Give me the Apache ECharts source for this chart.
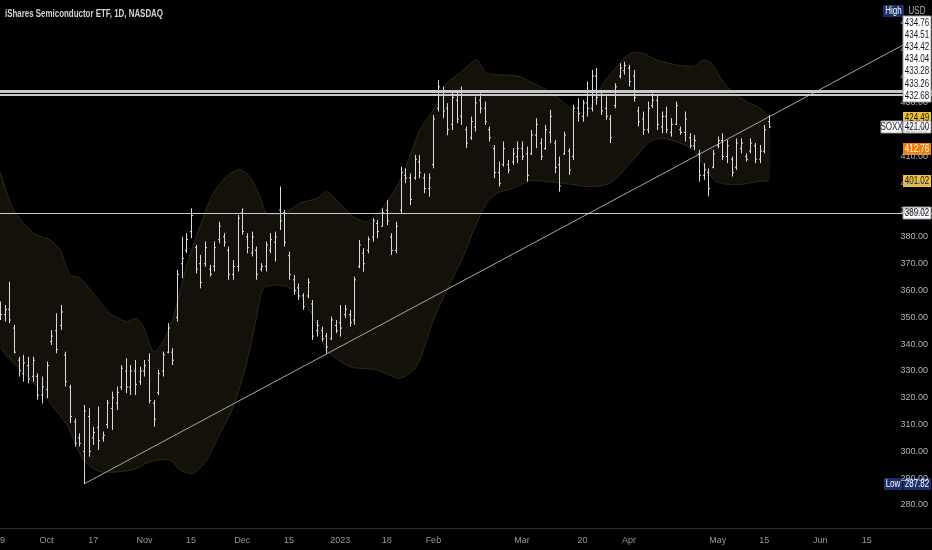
<!DOCTYPE html>
<html>
<head>
<meta charset="utf-8">
<script src="https://cdn.jsdelivr.net/npm/echarts@6/dist/echarts.min.js"></script>
<style>
  html, body { margin: 0; padding: 0; background: #000; }
  #chart { width: 932px; height: 550px; }
</style>
</head>
<body>
<div id="chart"></div>
<script>
// SOXX daily bars, index 0 = 2022-09-19 (trading days)
const highs = [355.9,354.6,363.3,347.2,335.3,336.0,335.3,335.3,329.1,327.9, 333.5,345.3,351.5,354.6,337.2,324.8,312.3,306.7,317.3,316.1,
  309.2,316.7,307.4,319.2,322.3,324.2,332.2,334.7,332.2,334.1, 331.6,334.1,336.6,319.2,330.4,337.2,347.8,338.5,367.7,380.1,
  381.4,390.7,377.0,373.3,378.3,369.6,378.3,385.7,381.4,376.4, 371.4,388.2,390.7,381.4,382.0,376.4,370.2,378.3,381.4,382.0,
  398.8,390.1,374.5,365.8,362.7,359.0,364.6,356.5,349.0,346.5, 344.1,350.3,349.0,354.6,354.6,352.8,365.2,378.9,375.8,380.1,
  387.0,386.3,390.7,393.8,381.4,385.7,406.2,405.6,403.7,410.6, 410.6,403.7,403.7,425.5,438.6,436.1,429.9,434.8,434.2,436.1,
  421.2,424.9,432.4,433.6,430.5,421.2,414.3,408.1,415.6,408.7, 413.1,415.6,415.6,413.7,419.9,424.3,416.8,421.8,427.4,416.2,
  410.0,419.3,413.1,429.3,431.7,431.1,438.0,442.3,443.0,434.8, 432.4,425.5,437.3,444.8,445.4,444.2,442.3,428.6,426.8,430.5,
  433.6,433.0,426.8,428.6,424.3,430.5,421.2,426.8,418.7,418.1, 412.5,407.5,405.6,412.5,417.4,418.7,416.2,410.0,416.8,416.8,
  411.2,416.8,415.0,414.3,421.8,425.5];
const lows = [349.0,348.4,347.8,336.6,327.9,326.0,325.4,326.0,319.2,317.9, 319.8,339.7,336.6,345.3,324.2,310.5,301.8,301.8,287.82,298.0,
  302.4,300.5,303.6,308.6,308.0,315.4,322.9,321.7,321.0,321.0, 324.8,327.9,317.9,309.2,321.0,327.9,336.6,332.2,348.4,364.6,
  373.9,379.5,366.4,360.8,368.9,365.2,367.1,377.6,376.4,364.0, 364.0,367.1,380.8,373.9,372.7,364.0,367.1,367.1,373.9,370.8,
  382.6,376.4,364.0,358.4,356.5,352.8,357.1,341.6,342.8,341.0, 336.6,341.6,344.1,342.8,349.7,346.5,347.2,368.3,367.0,373.9,
  378.2,379.5,383.8,384.4,373.3,373.9,388.8,400.0,391.9,401.3, 401.9,396.3,395.0,405.6,426.8,424.3,418.0,419.9,422.4,421.8,
  413.1,416.2,419.3,426.1,421.8,415.6,401.9,398.8,406.2,403.7, 406.9,407.5,408.7,400.6,410.6,413.1,408.7,412.5,415.0,403.8,
  396.9,410.6,403.1,408.7,423.0,423.0,424.9,426.8,429.3,425.5, 423.7,415.0,428.0,439.2,440.5,436.1,430.5,421.2,418.1,418.7,
  428.0,419.9,418.7,418.7,417.4,421.8,418.1,415.6,413.1,412.5, 400.6,401.3,395.1,405.6,413.1,408.7,407.5,402.5,405.0,411.2,
  408.1,411.2,407.5,407.5,411.2,420.6];
const opens = [354,351,353,346,334,329,332,328,328,321, 323,341,345,347,336,324,311,305,300,313,
  305,309,305,310,316,318,324,330,324,330, 326,330,334,318,322,330,337,337,350,370,
  375,382,376,370,370,368,369,379,380,375, 366,369,389,380,374,375,368,369,375,378,
  390,389,373,364,361,358,358,355,345,345, 343,342,347,348,351,351,349,369,374,375,
  380,385,384,390,380,375,390,403,402,402, 408,402,398,407,428,434,428,422,431,425,
  420,417,421,431,428,420,413,404,407,407, 408,410,413,411,411,418,415,413,419,415,
  407,411,412,410,428,425,430,428,440,433, 428,424,429,440,442,443,440,427,424,420,
  429,431,421,425,419,422,420,419,417,414, 411,403,404,406,414,416,410,409,406,413,
  410,412,414,409,412,423];
const closes = [351,353,349,337,330,333,327,334,321,324, 332,343,338,352,326,313,303,303,315,300,
  307,304,306,318,320,322,331,324,330,325, 330,332,319,312,329,336,346,334,366,372,
  379,388,368,363,376,366,376,384,378,366, 369,387,382,376,380,366,369,377,379,380,
  386,378,366,360,358,354,363,343,347,342, 339,349,345,346,353,348,364,377,370,379,
  386,382,389,386,375,384,404,402,394,409, 404,398,402,424,436,427,420,432,424,434,
  415,423,430,428,423,417,404,400,413,405, 411,413,410,403,418,422,410,420,425,406,
  399,418,405,428,426,430,428,440,432,427, 425,417,436,443,444,438,432,423,420,428,
  431,422,425,420,422,429,419,424,414,416, 403,405,398,411,416,410,414,404,415,415,
  409,415,409,412,420,421];

// envelope band, read at these bar positions
const bandUpIdx = [0,2.9,7.2,10.7,12.9,15,17.2,20,23.6,27.2,29.3,30.8,32.9,35,37.2,40,42.9,45.8,48.6,51.5,53.6,55.8,57.2,60.8,
  64.4,68,70.1,72.2,75.8,78.7,82.3,85.8,87.3,90.1,93,95.9,98.7,102.3,104.4,108.7,111.6,114.4,116.6,119.4,122.3,123.4,125.9,
  129.5,133,135.2,138,140.9,145.2,148.8,150.9,152.7,154.9,157.4,160.2,163.1,165];
const bandUp = [404.0,390.1,381.4,378.9,375.1,365.8,364.6,359.0,351.5,348.4,349.6,346.5,337.2,340.9,350.3,368.9,383.9,396.3,402.5,405.2,402.5,395.0,388.8,388.8,
  392.6,394.4,396.9,393.8,387.6,385.7,391.3,401.0,407.0,419.9,427.4,437.3,441.1,446.0,441.1,440.4,439.8,437.3,435.5,432.4,428.0,426.8,426.8,
  437.3,444.8,448.5,448.5,446.0,444.2,443.6,446.0,444.8,438.6,433.6,430.5,428.0,424.49];
const bandLowIdx = [0,7.2,14.3,17.9,21.5,28.6,32.2,36.5,38.6,41.5,44.3,47.2,50.1,52.9,55.1,56.5,59.4,61.5,64.4,67.2,70.1,75.1,80.8,85.8,
  89.4,93,95.9,99,102,104.4,106.6,110.2,113.7,120.9,126.6,130.9,135.2,139.5,142.3,145.9,148.8,151.6,153.8,158.1,162.4,165];
const bandLow = [339.1,325.4,310.0,296.8,292.4,293.1,296.2,296.8,293.1,291.8,296.8,306.7,316.7,332.9,350.3,360.8,362.1,361.5,357.7,350.3,337.8,331.6,330.4,327.3,
  331.6,349.0,360.2,371.0,384.0,392.5,396.3,398.2,401.0,400.0,398.8,400.0,407.5,415.6,416.8,415.0,412.5,405.0,400.6,399.4,400.6,401.02];

// trend line from the October low
const trendIdx = [18, 200];
const trendVal = [287.82, 457.4];

// horizontal levels
const levelLines = [434.76, 434.51, 434.42, 434.04, 433.28, 433.26, 432.68, 389.02];
const stackLabels = ['434.76', '434.51', '434.42', '434.04', '433.28', '433.26', '432.68'];

// axis ticks
const xTickIdx = [0,10,20,31,41,52,62,73,83,93,112,125,135,154,164,176,186];
const xTickText = ['19','Oct','17','Nov','15','Dec','15','2023','18','Feb','Mar','20','Apr','May','15','Jun','15'];
const yTicks = [280,290,300,310,320,330,340,350,360,370,380,390,400,410,420,430,440,450,460];

const lastClose = 421.00, bandTop = 424.49, bandMid = 412.76, bandBottom = 401.02, lowVal = 287.82;

const FONT = "'Liberation Sans', Arial, sans-serif";
const BAR = '#d8dae0';

const chart = echarts.init(document.getElementById('chart'));

function renderBar(params, api) {
  const x = api.value(0);
  const o = api.coord([x, api.value(1)]);
  const h = api.coord([x, api.value(2)]);
  const l = api.coord([x, api.value(3)]);
  const c = api.coord([x, api.value(4)]);
  const px = Math.round(h[0]) + 0.5;
  const st = { stroke: BAR, lineWidth: 1 };
  return {
    type: 'group',
    children: [
      { type: 'line', shape: { x1: px, y1: h[1], x2: px, y2: l[1] }, style: st },
      { type: 'line', shape: { x1: px - 1.5, y1: o[1], x2: px, y2: o[1] }, style: st },
      { type: 'line', shape: { x1: px, y1: c[1], x2: px + 1.5, y2: c[1] }, style: st }
    ]
  };
}

function renderBand(params, api) {
  const up = bandUpIdx.map((x, i) => api.coord([x, bandUp[i]]));
  const lo = bandLowIdx.map((x, i) => api.coord([x, bandLow[i]]));
  return {
    type: 'group',
    children: [
      { type: 'polygon', shape: { points: up.concat(lo.slice().reverse()), smooth: 0.25 },
        style: { fill: '#13110a' } },
      { type: 'polyline', shape: { points: up, smooth: 0.25 },
        style: { stroke: '#2f2a17', fill: null, lineWidth: 1 } },
      { type: 'polyline', shape: { points: lo, smooth: 0.25 },
        style: { stroke: '#2f2a17', fill: null, lineWidth: 1 } }
    ]
  };
}

const option = {
  backgroundColor: '#000',
  animation: false,
  grid: { left: 0, right: 0, top: 0, bottom: 22, containLabel: false, outerBoundsMode: 'none' },
  xAxis: {
    type: 'value', min: 0, max: 200,
    axisLine: { show: true, lineStyle: { color: '#2a2e39' } },
    axisTick: { show: false },
    splitLine: { show: false },
    axisLabel: {
      customValues: xTickIdx,
      formatter: v => xTickText[xTickIdx.indexOf(v)],
      color: '#9598a1', fontSize: 9, fontFamily: FONT, margin: 8
    }
  },
  yAxis: {
    type: 'value', position: 'right', min: 271.4, max: 468.4,
    axisLine: { show: false }, axisTick: { show: false }, splitLine: { show: false },
    axisLabel: {
      inside: true, margin: 4,
      customValues: yTicks,
      formatter: v => v.toFixed(2),
      color: '#b2b5be', fontSize: 9, fontFamily: FONT
    }
  },
  series: [
    {
      type: 'custom', name: 'band', renderItem: renderBand,
      data: [[0, 400]], encode: { x: 0, y: 1 }, silent: true, z: 1
    },
    {
      type: 'line', name: 'levels', data: [], z: 2, silent: true,
      markLine: {
        symbol: 'none', silent: true, label: { show: false },
        lineStyle: { color: '#c8c8c8', width: 1, type: 'solid' },
        data: levelLines.map(v => ({ yAxis: v }))
      }
    },
    {
      type: 'line', name: 'trend', z: 3, silent: true, symbol: 'none',
      data: trendIdx.map((x, i) => [x, trendVal[i]]),
      lineStyle: { color: '#a8a8a8', width: 1 }
    },
    {
      type: 'custom', name: 'SOXX', renderItem: renderBar, z: 4,
      data: opens.map((o, i) => [i, o, highs[i], lows[i], closes[i]]),
      encode: { x: 0, y: [1, 2, 3, 4] }
    }
  ]
};
chart.setOption(option);

// narrow text, as on the price scale
function tagText(cx, cy, text, fg, sx) {
  return {
    type: 'text', z: 101, x: cx, y: Math.round(cy), scaleX: sx || 0.8,
    style: { text: text, fill: fg, font: '10px ' + FONT, align: 'center', verticalAlign: 'middle' }
  };
}
function box(x, yc, w, text, bg, fg, border) {
  return {
    type: 'group', z: 100,
    children: [
      { type: 'rect', shape: { x: x, y: Math.round(yc) - 6, width: w, height: 12 },
        style: { fill: bg, stroke: border || null, lineWidth: 1 } },
      tagText(x + w / 2, yc, text, fg)
    ]
  };
}
const py = v => chart.convertToPixel({ yAxisIndex: 0 }, v);
const graphics = [];

graphics.push({
  type: 'text', z: 101, x: 5, y: 14, scaleX: 0.72,
  style: { text: 'iShares Semiconductor ETF, 1D, NASDAQ', fill: '#d1d4dc',
    font: 'bold 11px ' + FONT, align: 'left', verticalAlign: 'middle' }
});

// stacked white tags for the close-together levels
const baseY = py(432.68);
const step = 12.2;
graphics.push({
  type: 'rect', z: 100,
  shape: { x: 903, y: Math.round(baseY - step * 6) - 7, width: 28, height: Math.round(step * 6) + 13 },
  style: { fill: '#ffffff', stroke: '#9a9a9a', lineWidth: 1 }
});
stackLabels.forEach((t, i) => {
  graphics.push(tagText(917, baseY - step * (6 - i), t, '#131722'));
});
graphics.push(box(903, py(bandTop), 28, bandTop.toFixed(2), '#f0c030', '#131722'));
graphics.push(box(881, py(lastClose), 21, 'SOXX', '#ffffff', '#131722', '#9a9a9a'));
graphics.push(box(903, py(lastClose), 28, lastClose.toFixed(2), '#ffffff', '#131722', '#9a9a9a'));
graphics.push(box(903, py(bandMid), 28, bandMid.toFixed(2), '#f57c00', '#ffffff'));
graphics.push(box(903, py(bandBottom), 28, bandBottom.toFixed(2), '#f0c030', '#131722'));
graphics.push(box(903, py(389.02), 28, '389.02', '#ffffff', '#131722', '#9a9a9a'));
graphics.push(box(884, py(lowVal), 18, 'Low', '#1c2e6b', '#ffffff'));
graphics.push(box(903, py(lowVal), 28, lowVal.toFixed(2), '#1c2e6b', '#ffffff'));
// header of the price scale
graphics.push(box(883, 11, 21, 'High', '#1c2e6b', '#ffffff'));
graphics.push(tagText(917, 11, 'USD', '#b2b5be'));

chart.setOption({ graphic: graphics });
</script>
</body>
</html>
